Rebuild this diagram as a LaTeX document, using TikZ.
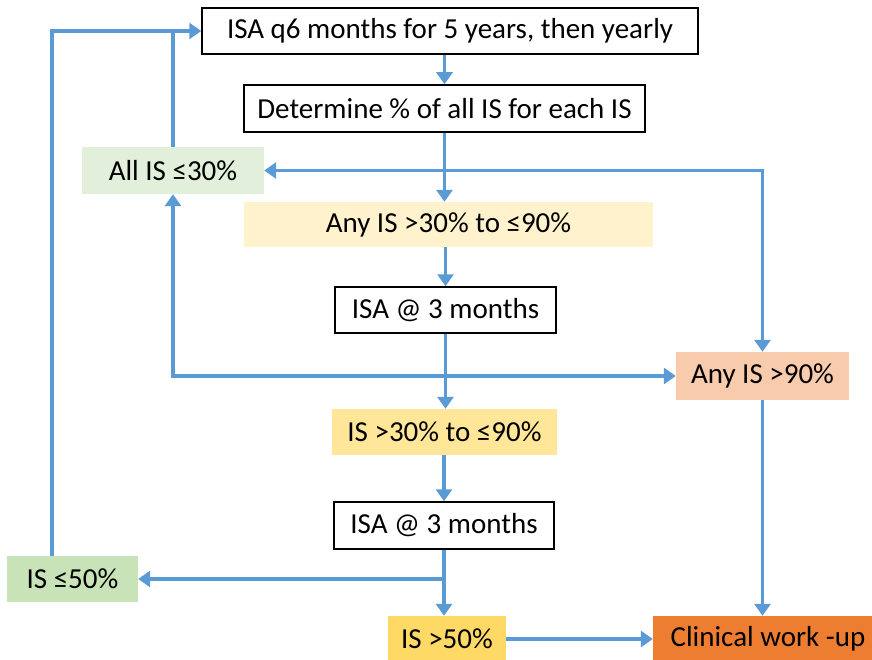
\documentclass[tikz,border=0pt]{standalone}
\usepackage{fontspec}
\setmainfont{Carlito}
\usetikzlibrary{arrows.meta}

\definecolor{flowblue}{HTML}{5B9BD5}
\definecolor{palegreen}{HTML}{E2EFDA}
\definecolor{midgreen}{HTML}{C9E3B8}
\definecolor{paleyellow}{HTML}{FFF2CC}
\definecolor{midyellow}{HTML}{FFE699}
\definecolor{deepyellow}{HTML}{FFD966}
\definecolor{peach}{HTML}{F8CBAD}
\definecolor{workorange}{HTML}{ED7D31}

\newcommand*{\picw}{872}
\newcommand*{\pich}{660}

\begin{document}
\begin{tikzpicture}
[
	x=1pt,y=-1pt,
	box/.style={rectangle,inner sep=0pt,font=\fontsize{29}{34}\selectfont},
	plainbox/.style={box,draw=black,line width=1.5pt,fill=white},
	flow/.style={draw=flowblue,line width=3.8pt,-{Triangle[length=12pt,width=16pt]}},
	line/.style={draw=flowblue,line width=3.8pt}
]

	\useasboundingbox (0,0) rectangle (\picw,\pich);

	% boxes
	\node[plainbox,minimum width=496pt,minimum height=46pt] (isa) at (450,31) {ISA q6 months for 5 years, then yearly};
	\node[plainbox,minimum width=401pt,minimum height=47pt] (det) at (444.5,108.5) {Determine \% of all IS for each IS};
	\node[box,fill=palegreen,minimum width=182pt,minimum height=47pt] (all30) at (173,170.5) {All IS ≤30\%};
	\node[box,fill=paleyellow,minimum width=409pt,minimum height=45pt] (any3090) at (448.5,224.5) {Any IS >30\% to ≤90\%};
	\node[plainbox,minimum width=221pt,minimum height=46pt] (isa3a) at (445.5,310) {ISA @ 3 months};
	\node[box,fill=peach,minimum width=173pt,minimum height=48pt] (any90) at (762.5,376) {Any IS >90\%};
	\node[box,fill=midyellow,minimum width=225pt,minimum height=46pt] (is3090) at (444.5,432) {IS >30\% to ≤90\%};
	\node[plainbox,minimum width=220pt,minimum height=47pt] (isa3b) at (444,525.5) {ISA @ 3 months};
	\node[box,fill=midgreen,minimum width=131pt,minimum height=46pt] (le50) at (72.5,579) {IS ≤50\%};
	\node[box,fill=deepyellow,minimum width=118pt,minimum height=46pt] (gt50) at (447,639) {IS >50\%};
	\node[box,fill=workorange,minimum width=230pt,minimum height=46pt] (clin) at (768,639) {Clinical work -up};

	% junctions
	\coordinate (split1) at (det.south |- all30.east);
	\coordinate (split2) at (isa3a.south |- any90.west);
	\coordinate (split3) at (isa3b.south |- le50.east);

	% main line
	\draw[flow] (det.north |- isa.south) -- (det.north);
	\draw[flow] (det.south) -- (det.south |- any3090.north);
	\draw[flow] (any3090.south -| isa3a.north) -- (isa3a.north);
	\draw[flow] (isa3a.south) -- (isa3a.south |- is3090.north);
	\draw[flow] (is3090.south -| isa3b.north) -- (isa3b.north);
	\draw[flow] (isa3b.south) -- (isa3b.south |- gt50.north);
	\draw[flow] (gt50.east) -- (clin.west |- gt50.east);

	% branches
	\draw[flow] (split1) -- (all30.east);
	\draw[flow] (split1) -| (any90.north);
	\draw[flow] (split2) -| (all30.south);
	\draw[flow] (split2) -- (any90.west);
	\draw[flow] (split3) -- (le50.east);
	\draw[flow] (any90.south) -- (any90.south |- clin.north);

	% back to the start
	\draw[flow] (all30.north) |- (isa.west);
	\draw[line] ([xshift=-20.5pt]le50.north) |- (all30.north |- isa.west);

\end{tikzpicture}
\end{document}
